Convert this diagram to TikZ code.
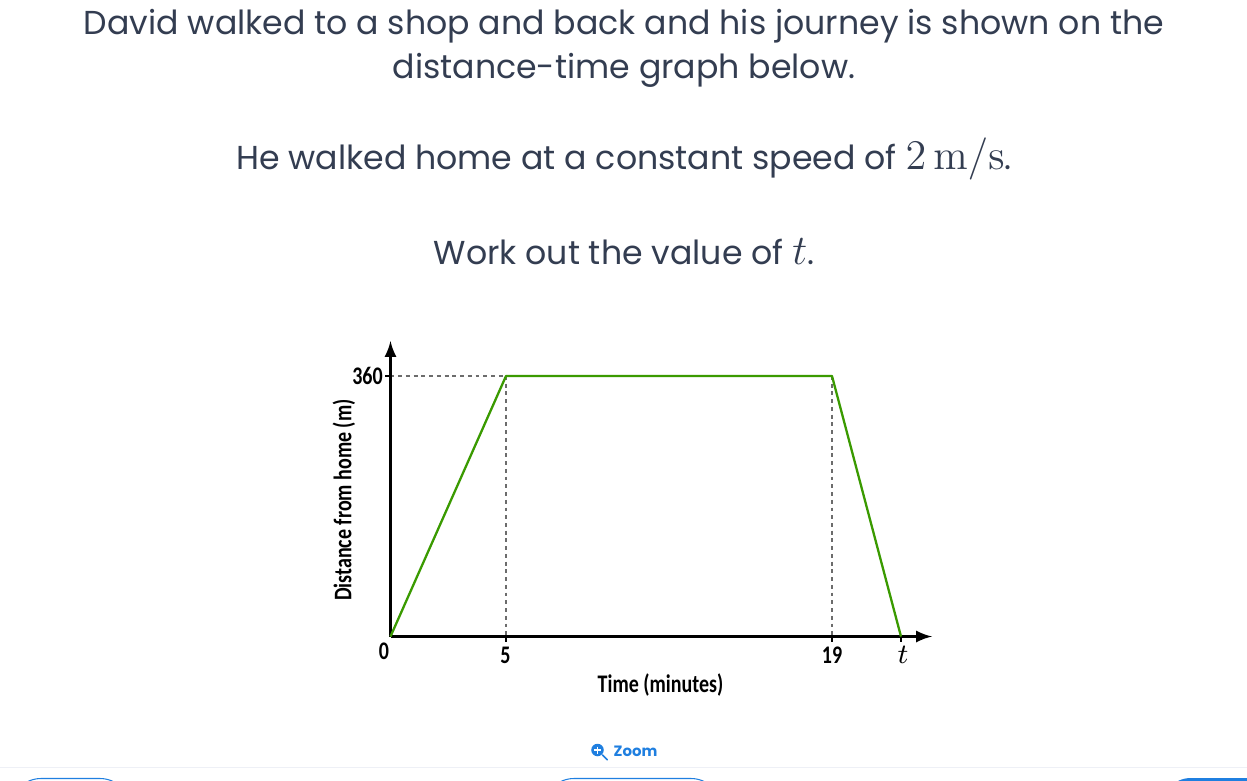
\documentclass[tikz,border=0pt]{standalone}
\usepackage[no-math]{fontspec}
\setmainfont{Poppins}
\newfontfamily\graphfont{Carlito}
\definecolor{questiontext}{HTML}{333D51}
\definecolor{linegreen}{HTML}{3A9A00}
\definecolor{zoomblue}{HTML}{1F7FE0}
\definecolor{rulegrey}{HTML}{EEF0F6}
\newcommand{\bigmath}[1]{{\fontsize{12.2}{14}\selectfont$#1$}}
\tikzset{
  question/.style={text=questiontext, inner sep=0pt, anchor=base, font=\fontsize{9.43}{12}\selectfont},
  graphlabel/.style={inner sep=0pt, font=\graphfont\bfseries\fontsize{7.2}{8}\selectfont, xscale=0.79},
  guide/.style={gray!85!black, line width=0.35pt, dash pattern=on 1.1pt off 1.1pt},
  axisline/.style={black, line width=0.58pt, -latex},
  pill/.style={zoomblue, line width=0.3pt, rounded corners=0.3cm}
}
\begin{document}
\begin{tikzpicture}[x=0.01cm, y=-0.01cm]
  \useasboundingbox[fill=white] (0,0) rectangle (1247,781);

  % question text
  \node[question] (line1) at (624,34) {David walked to a shop and back and his journey is shown on the};
  \node[question] (line2) at (624,78) {distance-time graph below.};
  \node[question] (line3) at (624,169) {He walked home at a constant speed of \bigmath{2\,\mathrm{m/s}}.};
  \node[question] (line4) at (624,264) {Work out the value of \bigmath{t}.};

  % corners of the graph
  \coordinate (o) at (390.5,636.5);
  \coordinate (ytip) at (390.5,341);
  \coordinate (xtip) at (932,636.5);
  \coordinate (y360) at (390.5,376);
  \coordinate (peak1) at (506,376);
  \coordinate (peak2) at (832,376);
  \coordinate (x5) at (506,636.5);
  \coordinate (x19) at (832,636.5);
  \coordinate (xt) at (901,636.5);

  \draw[guide] (y360) -- (peak1);
  \draw[guide] (peak1) -- (x5);
  \draw[guide] (peak2) -- (x19);

  \draw[axisline] (o) -- (ytip);
  \draw[axisline] (o) -- (xtip);

  \draw[black, line width=0.5pt] (y360) -- +(-5.5,0);
  \draw[black, line width=0.5pt] (x5) -- +(0,5);
  \draw[black, line width=0.5pt] (x19) -- +(0,5);
  \draw[black, line width=0.5pt] (xt) -- +(0,5);

  \draw[linegreen, line width=0.65pt, line join=round] (o) -- (peak1) -- (peak2) -- (xt);

  \node[graphlabel] (l360) at (367.5,376) {360};
  \node[graphlabel] (l0) at (384,651) {0};
  \node[graphlabel] (l5) at (505.5,655) {5};
  \node[graphlabel] (l19) at (832,655) {19};
  \node[inner sep=0pt, font=\fontsize{7.6}{8}\selectfont] (lt) at (903,655) {$t$};
  \node[graphlabel] (xlabel) at (660.5,685) {Time (minutes)};
  \node[rotate=90, graphlabel] (ylabel) at (344,500) {Distance from home (m)};

  % zoom button
  \node[zoomblue, inner sep=0pt, font=\bfseries\fontsize{4.25}{6}\selectfont] (zoomtext) at (635.5,751.5) {Zoom};
  \node[circle, fill=zoomblue, inner sep=0pt, minimum size=0.125cm] (lens) at (597.5,750) {};
  \draw[white, line width=0.3pt] (lens.center) +(-3.5,0) -- +(3.5,0);
  \draw[white, line width=0.3pt] (lens.center) +(0,-3.5) -- +(0,3.5);
  \draw[zoomblue, line width=0.45pt, line cap=round] (lens.south east) -- +(5,5);

  % start of the row below
  \coordinate (ruleleft) at (0,767.5);
  \coordinate (ruleright) at (1247,767.5);
  \draw[rulegrey, line width=0.25pt] (ruleleft) -- (ruleright);
  \begin{scope}
    \clip (0,770) rectangle (1247,781);
    \draw[pill] (11,778.5) rectangle (130,830);
    \draw[pill] (544,778.5) rectangle (721,830);
    \fill[pill] (1161,778) rectangle (1290,830);
  \end{scope}
\end{tikzpicture}
\end{document}
